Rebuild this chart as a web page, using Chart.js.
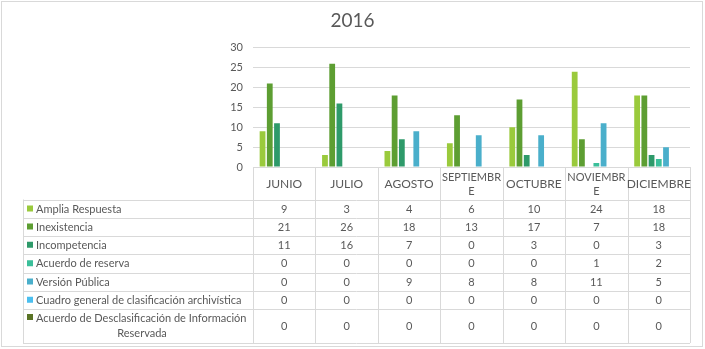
<!DOCTYPE html>
<html>
<head>
<meta charset="utf-8">
<script src="https://cdn.jsdelivr.net/npm/chart.js@4"></script>
<style>
  html, body { margin: 0; padding: 0; background: #fff; }
  #wrap { width: 705px; height: 349px; }
</style>
</head>
<body>
<div id="wrap"><canvas id="chart" width="705" height="349"></canvas></div>
<script>
const months = ["JUNIO", "JULIO", "AGOSTO", ["SEPTIEMBR", "E"], "OCTUBRE", ["NOVIEMBR", "E"], "DICIEMBRE"];

const seriesNames = [
    "Amplia Respuesta",
    "Inexistencia",
    "Incompetencia",
    "Acuerdo de reserva",
    "Versión Pública",
    "Cuadro general de clasificación archivística",
    ["Acuerdo de Desclasificación de Información", "Reservada"]
];

const ampliaRespuesta = [9, 3, 4, 6, 10, 24, 18];
const inexistencia = [21, 26, 18, 13, 17, 7, 18];
const incompetencia = [11, 16, 7, 0, 3, 0, 3];
const acuerdoReserva = [0, 0, 0, 0, 0, 1, 2];
const versionPublica = [0, 0, 9, 8, 8, 11, 5];
const cuadroGeneral = [0, 0, 0, 0, 0, 0, 0];
const acuerdoDesclasificacion = [0, 0, 0, 0, 0, 0, 0];

const yTicks = [0, 5, 10, 15, 20, 25, 30];

const colors = ["#9aca3c", "#5d9e32", "#2e9a6a", "#3bbf9a", "#4aafcb", "#4bbfef", "#5a7426"];
const seriesValues = [ampliaRespuesta, inexistencia, incompetencia, acuerdoReserva, versionPublica, cuadroGeneral, acuerdoDesclasificacion];

const FONT = "Lato, 'Open Sans', sans-serif";
const TEXT = "#595959";
const LINE = "#d9d9d9";

// data table under the plot, columns follow the x scale
const tablePlugin = {
    id: "dataTable",
    afterDraw(chart) {
        const ctx = chart.ctx;
        const xs = chart.scales.x;
        const area = chart.chartArea;
        const colW = area.width / months.length;
        const tableLeft = 23;
        const headerTop = area.bottom;
        const rowTops = [199.5, 217.5, 235.5, 254, 272.5, 290.5, 309, 343];

        ctx.save();
        ctx.strokeStyle = LINE;
        ctx.lineWidth = 1;

        // frame around everything
        ctx.strokeRect(1.5, 1.5, 701, 345);

        ctx.beginPath();
        // column separators
        for (let i = 0; i <= months.length; i++) {
            const x = Math.round(area.left + i * colW) + 0.5;
            ctx.moveTo(x, headerTop);
            ctx.lineTo(x, rowTops[rowTops.length - 1]);
        }
        // row lines
        rowTops.forEach(y => {
            ctx.moveTo(tableLeft, Math.round(y) + 0.5);
            ctx.lineTo(area.right, Math.round(y) + 0.5);
        });
        ctx.moveTo(tableLeft + 0.5, rowTops[0]);
        ctx.lineTo(tableLeft + 0.5, rowTops[rowTops.length - 1]);
        ctx.stroke();

        ctx.fillStyle = TEXT;
        ctx.textBaseline = "middle";
        ctx.textAlign = "center";

        // month header
        ctx.font = "12px " + FONT;
        months.forEach((m, i) => {
            const cx = xs.getPixelForValue(i);
            if (Array.isArray(m)) {
                ctx.font = "11px " + FONT;
                ctx.fillText(m[0], cx, headerTop + 10);
                ctx.fillText(m[1], cx, headerTop + 24);
                ctx.font = "12px " + FONT;
            } else {
                ctx.fillText(m, cx, headerTop + 17);
            }
        });

        // series rows
        ctx.font = "11px " + FONT;
        seriesNames.forEach((name, r) => {
            const top = rowTops[r];
            const bottom = rowTops[r + 1];
            const cy = (top + bottom) / 2;
            ctx.fillStyle = colors[r];
            ctx.textAlign = "left";
            if (Array.isArray(name)) {
                ctx.fillRect(27, top + 5, 6, 6);
                ctx.fillStyle = TEXT;
                ctx.fillText(name[0], 36, top + 9);
                ctx.textAlign = "center";
                ctx.fillText(name[1], 142, top + 24);
            } else {
                ctx.fillRect(27, cy - 3, 6, 6);
                ctx.fillStyle = TEXT;
                ctx.fillText(name, 36, cy + 0.5);
            }
            ctx.textAlign = "center";
            seriesValues[r].forEach((v, i) => {
                ctx.fillText(String(v), xs.getPixelForValue(i), cy + 0.5);
            });
        });
        ctx.restore();
    }
};

new Chart(document.getElementById("chart"), {
    type: "bar",
    data: {
        labels: months,
        datasets: seriesNames.map((name, i) => ({
            label: Array.isArray(name) ? name.join(" ") : name,
            data: seriesValues[i],
            backgroundColor: colors[i],
            categoryPercentage: 0.81,
            barPercentage: 0.8
        }))
    },
    options: {
        responsive: false,
        animation: false,
        layout: { padding: { left: 15, right: 15, top: 0, bottom: 182 } },
        plugins: {
            legend: { display: false },
            tooltip: { enabled: false },
            title: {
                display: true,
                text: "2016",
                color: TEXT,
                font: { family: FONT, size: 19, weight: "normal" },
                padding: { top: 9, bottom: 16 }
            }
        },
        scales: {
            x: {
                ticks: { display: false },
                grid: { display: false },
                border: { display: true, color: LINE },
                afterFit(scale) { scale.height = 0; }
            },
            y: {
                min: 0,
                max: 30,
                afterBuildTicks(scale) { scale.ticks = yTicks.map(v => ({ value: v })); },
                ticks: { color: TEXT, font: { family: FONT, size: 11 }, padding: 10 },
                grid: { color: LINE, drawTicks: false },
                border: { display: false },
                afterFit(scale) { scale.width = 238; }
            }
        }
    },
    plugins: [tablePlugin]
});
</script>
</body>
</html>
